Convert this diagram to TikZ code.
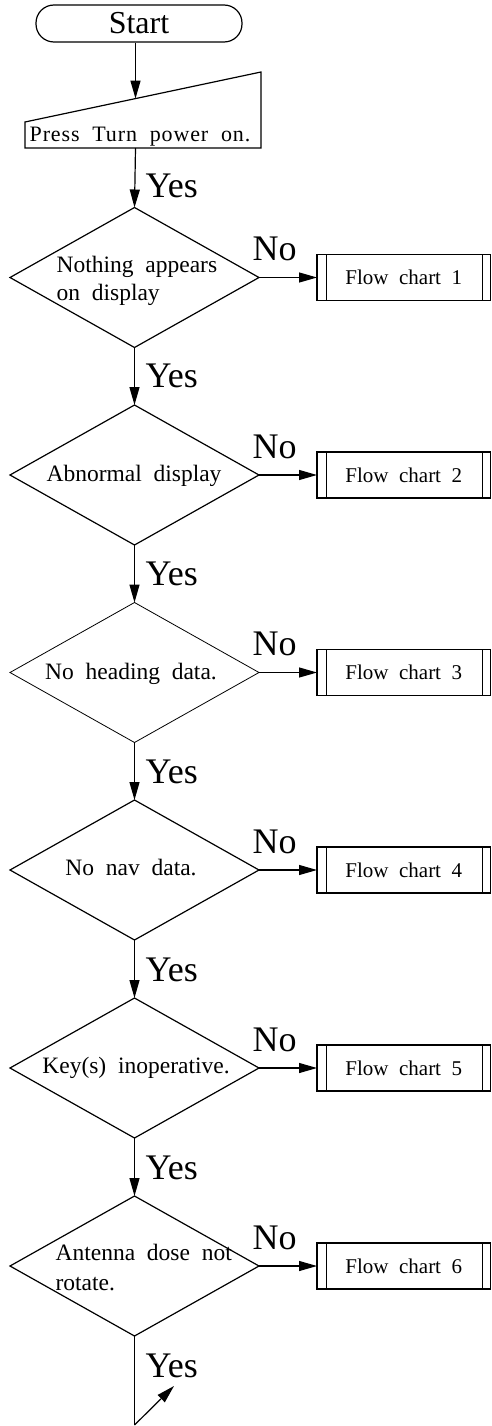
\documentclass[tikz,border=0pt]{standalone}
\usepackage{fontspec}
\setmainfont{Liberation Serif}[WordSpace=2]
\usetikzlibrary{shapes.geometric,arrows.meta}
\begin{document}
\begin{tikzpicture}[x=1pt,y=-1pt,line width=1.2pt,
  arr/.style={-{Triangle[length=18pt,width=10pt]}},
  dec/.style={draw,diamond,minimum width=249pt,minimum height=140pt,inner sep=0pt,outer sep=0pt},
  sub/.style={draw,rectangle,minimum width=173.5pt,minimum height=46pt,inner sep=0pt,outer sep=0pt,font=\fontsize{21}{24}\selectfont},
  lbl/.style={font=\fontsize{36}{36}\selectfont,inner sep=0pt,anchor=base west},
  dtxt/.style={font=\fontsize{23.5}{28}\selectfont,inner sep=0pt,anchor=base},
  dtxtl/.style={font=\fontsize{23.5}{28}\selectfont,inner sep=0pt,anchor=base west}]
\useasboundingbox (0,0) rectangle (491,1426);
% start
\node[draw,rounded corners=18pt,minimum width=206pt,minimum height=37pt,inner sep=0pt,font=\fontsize{32}{32}\selectfont] (start) at (139,23.5) {Start};
\coordinate (colx) at (135.5,0);
% manual input
\draw (25,122) coordinate (inpA) -- (261,72) coordinate (inpB) -- (261,148) coordinate (inpC) -- (25,148) coordinate (inpD) -- cycle;
\coordinate (inptop) at (135.5,98.6);
\coordinate (inpbot) at (135.5,148);
\node[font=\fontsize{22}{24}\selectfont\addfontfeature{LetterSpace=4},inner sep=0pt,anchor=base] (inp) at (140,142) {Press Turn power on.};
\draw[arr] (start.south -| colx) -- (inptop);
% decisions
\node[dec] (d1) at (134.5,277.5) {};
\node[dec] (d2) at (134.5,475) {};
\node[dec,line width=0.8pt] (d3) at (134.5,672.5) {};
\node[dec] (d4) at (134.5,870) {};
\node[dec] (d5) at (134.5,1068) {};
\node[dec] (d6) at (134.5,1266) {};
% decision texts
\node[dtxtl] (t1a) at (56,272) {Nothing appears};
\node[dtxtl] (t1b) at (56,300) {on display};
\node[dtxt] (t2) at (134,481) {Abnormal display};
\node[dtxt] (t3) at (131,679) {No heading data.};
\node[dtxt] (t4) at (131,875) {No nav data.};
\node[dtxt] (t5) at (136,1073) {Key(s) inoperative.};
\node[dtxtl] (t6a) at (55,1260) {Antenna dose not};
\node[dtxtl] (t6b) at (55,1290) {rotate.};
% subroutine boxes
\foreach \i/\y in {1/277.5,2/475,3/672.5,4/870,5/1068,6/1266}{
  \node[sub] (f\i) at (403.75,\y) {Flow chart \i};
  \draw[line width=1pt] ([xshift=9pt]f\i.north west) -- ([xshift=9pt]f\i.south west);
  \draw[line width=1pt] ([xshift=-8pt]f\i.north east) -- ([xshift=-8pt]f\i.south east);
  \draw[arr] (d\i.east) -- (f\i.west);
  \node[lbl] (no\i) at (252,\y-17) {No};
}
% yes connectors
\draw[arr] (inpbot) -- (d1.north);
\draw[arr] (d1.south) -- (d2.north);
\draw[arr] (d2.south) -- (d3.north);
\draw[arr] (d3.south) -- (d4.north);
\draw[arr] (d4.south) -- (d5.north);
\draw[arr] (d5.south) -- (d6.north);
\node[lbl] (y0) at (145,197) {Yes};
\node[lbl] (y1) at (145,387) {Yes};
\node[lbl] (y2) at (145,585) {Yes};
\node[lbl] (y3) at (145,783) {Yes};
\node[lbl] (y4) at (145,981) {Yes};
\node[lbl] (y5) at (145,1179) {Yes};
\node[lbl] (y6) at (145,1377) {Yes};
% final
\coordinate (endc) at (134.5,1425);
\coordinate (tip) at (174,1386);
\draw (d6.south) -- (endc);
\draw[arr] (endc) -- (tip);
\end{tikzpicture}
\end{document}
